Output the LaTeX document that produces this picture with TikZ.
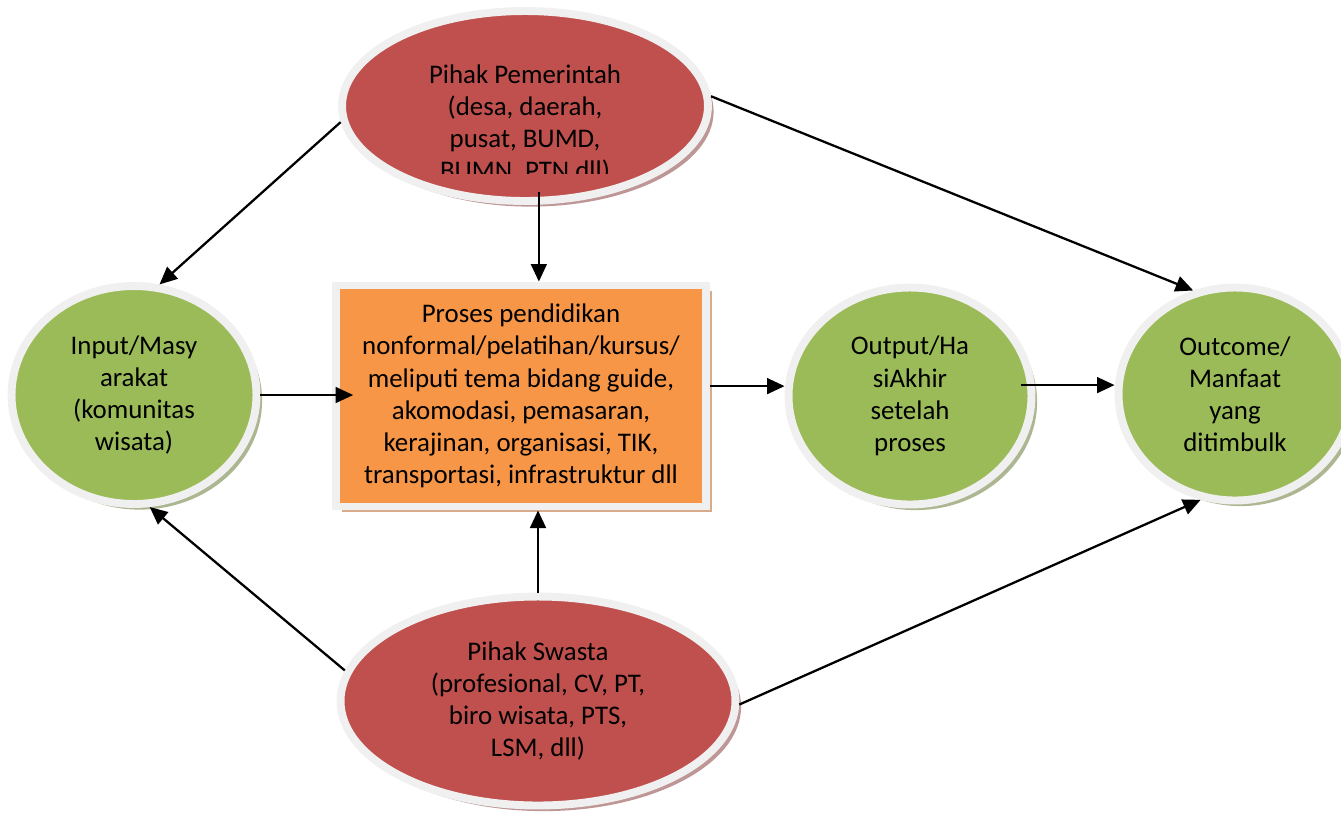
\documentclass[tikz,border=0pt]{standalone}
\usepackage{fontspec}
\setmainfont{Carlito}
\usetikzlibrary{shapes.geometric,shadows,arrows.meta}
\definecolor{redfill}{HTML}{C0504D}
\definecolor{greenfill}{HTML}{9BBB59}
\definecolor{orangefill}{HTML}{F79646}
\definecolor{rimgray}{HTML}{F0F0F0}
\definecolor{redshade}{RGB}{190,150,150}
\definecolor{greenshade}{RGB}{172,182,145}
\definecolor{orangeshade}{RGB}{215,172,140}
\newcommand\diagfont{\fontsize{15.3}{18.3}\selectfont}
\begin{document}
\begin{tikzpicture}[
			x=0.02cm, y=-0.02cm,
			rim/.style={draw=rimgray, line width=4.5pt, inner sep=0pt, align=center, font=\diagfont},
			party/.style={ellipse, rim, fill=redfill,
				drop shadow={shadow xshift=3.2pt, shadow yshift=-3.2pt, fill=redshade, opacity=1}},
			stage/.style={ellipse, rim, fill=greenfill,
				drop shadow={shadow xshift=3.2pt, shadow yshift=-3.2pt, fill=greenshade, opacity=1}},
			procbox/.style={rectangle, rim, fill=orangefill,
				drop shadow={shadow xshift=3.2pt, shadow yshift=-3.2pt, fill=orangeshade, opacity=1}},
			txt/.style={inner sep=0pt, align=center, font=\diagfont},
			flow/.style={line width=1.3pt, -{Triangle[length=10pt, width=9pt]}},
		]
		\clip (0,0) rectangle (1341,816);

		\node[party, minimum width=7.32cm, minimum height=3.8cm] (gov) at (525,106) {};
		\begin{scope}
			\clip (330,0) rectangle (720,173);
			\node[txt] (govtext) at (525,124) {Pihak Pemerintah\\(desa, daerah,\\pusat, BUMD,\\BUMN, PTN dll)};
		\end{scope}
		\node[party, minimum width=7.9cm, minimum height=4.18cm] (swasta) at (538,701)
			{Pihak Swasta\\(profesional, CV, PT,\\biro wisata, PTS,\\LSM, dll)};

		\node[stage, minimum width=4.9cm, minimum height=4.36cm] (input) at (134,395)
			{Input/Masy\\arakat\\(komunitas\\wisata)};
		\node[procbox, minimum width=7.4cm, minimum height=4.42cm] (box) at (521,396)
			{Proses pendidikan\\nonformal/pelatihan/kursus/\\meliputi tema bidang guide,\\akomodasi, pemasaran,\\kerajinan, organisasi, TIK,\\transportasi, infrastruktur dll};
		\node[stage, minimum width=4.86cm, minimum height=4.34cm] (output) at (910,396)
			{Output/Ha\\siAkhir\\setelah\\proses};
		\node[stage, minimum width=4.66cm, minimum height=4.26cm] (outcome) at (1235,394)
			{Outcome/\\Manfaat\\yang\\ditimbulk};

		\draw[flow] (gov.185) -- (input.77);
		\draw[flow, shorten <=-7pt] (gov.278) -- (gov.278 |- box.north);
		\draw[flow] (gov.3) -- (outcome.112);
		\draw[flow, shorten >=-12pt] (input.east) -- (input.east -| box.west);
		\draw[flow] (box.3) -- (box.3 -| output.west);
		\draw[flow, shorten <=-8pt] (output.5) -- (output.5 -| outcome.west);
		\draw[flow] (swasta.171) -- (input.278);
		\draw[flow] (swasta.north) -- (swasta.north |- box.south);
		\draw[flow] (swasta.359) -- (outcome.252);
	\end{tikzpicture}
\end{document}
